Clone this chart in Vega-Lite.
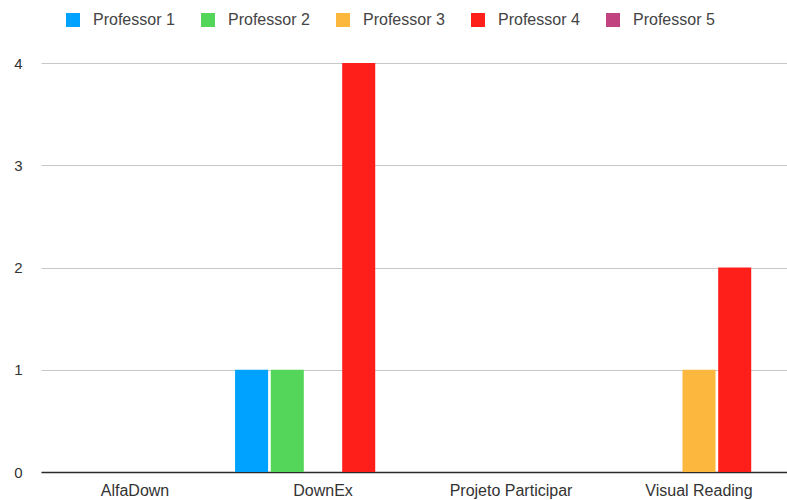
{
  "$schema": "https://vega.github.io/schema/vega-lite/v6.json",
  "width": 746,
  "height": 409,
  "autosize": {"type": "none"},
  "padding": {"left": 41, "top": 63, "right": 0, "bottom": 28},
  "background": "#ffffff",
  "config": {
    "view": {"stroke": null},
    "font": "Liberation Sans",
    "axis": {"labelFont": "Liberation Sans", "titleFont": "Liberation Sans"},
    "legend": {"labelFont": "Liberation Sans"}
  },
  "data": {
    "values": [
      {"app": "AlfaDown", "professor": "Professor 1", "count": 0},
      {"app": "AlfaDown", "professor": "Professor 2", "count": 0},
      {"app": "AlfaDown", "professor": "Professor 3", "count": 0},
      {"app": "AlfaDown", "professor": "Professor 4", "count": 0},
      {"app": "AlfaDown", "professor": "Professor 5", "count": 0},
      {"app": "DownEx", "professor": "Professor 1", "count": 1},
      {"app": "DownEx", "professor": "Professor 2", "count": 1},
      {"app": "DownEx", "professor": "Professor 3", "count": 0},
      {"app": "DownEx", "professor": "Professor 4", "count": 4},
      {"app": "DownEx", "professor": "Professor 5", "count": 0},
      {"app": "Projeto Participar", "professor": "Professor 1", "count": 0},
      {"app": "Projeto Participar", "professor": "Professor 2", "count": 0},
      {"app": "Projeto Participar", "professor": "Professor 3", "count": 0},
      {"app": "Projeto Participar", "professor": "Professor 4", "count": 0},
      {"app": "Projeto Participar", "professor": "Professor 5", "count": 0},
      {"app": "Visual Reading", "professor": "Professor 1", "count": 0},
      {"app": "Visual Reading", "professor": "Professor 2", "count": 0},
      {"app": "Visual Reading", "professor": "Professor 3", "count": 1},
      {"app": "Visual Reading", "professor": "Professor 4", "count": 2},
      {"app": "Visual Reading", "professor": "Professor 5", "count": 0}
    ]
  },
  "mark": {"type": "bar"},
  "encoding": {
    "x": {
      "field": "app",
      "type": "nominal",
      "sort": ["AlfaDown", "DownEx", "Projeto Participar", "Visual Reading"],
      "scale": {"range": [0, 752], "paddingInner": 0, "paddingOuter": 0},
      "axis": {
        "title": null,
        "labelAngle": 0,
        "labelFontSize": 16,
        "labelColor": "#333333",
        "labelPadding": 10,
        "ticks": false,
        "tickSize": 0,
        "domain": true,
        "domainColor": "#2b2b2b",
        "domainWidth": 1.5,
        "grid": false
      }
    },
    "xOffset": {
      "field": "professor",
      "type": "nominal",
      "scale": {"paddingInner": 0.075, "paddingOuter": 0.17}
    },
    "y": {
      "field": "count",
      "type": "quantitative",
      "scale": {"domain": [0, 4], "nice": false, "zero": true},
      "axis": {
        "title": null,
        "values": [0, 1, 2, 3, 4],
        "format": "d",
        "labelFontSize": 15,
        "labelColor": "#333333",
        "labelPadding": 19,
        "ticks": false,
        "tickSize": 0,
        "domain": false,
        "grid": true,
        "gridColor": "#c8c8c8",
        "gridWidth": 1
      }
    },
    "color": {
      "field": "professor",
      "type": "nominal",
      "scale": {
        "domain": ["Professor 1", "Professor 2", "Professor 3", "Professor 4", "Professor 5"],
        "range": ["#00a2ff", "#53d65a", "#fbb73e", "#ff1f1a", "#c1437f"]
      },
      "legend": {
        "title": null,
        "orient": "none",
        "direction": "horizontal",
        "legendX": 24,
        "legendY": -51,
        "padding": 0,
        "symbolType": "square",
        "symbolSize": 196,
        "symbolStrokeWidth": 0,
        "symbolOpacity": 1,
        "labelFontSize": 16,
        "labelColor": "#444444",
        "labelOffset": 12,
        "columnPadding": 25
      }
    }
  }
}
